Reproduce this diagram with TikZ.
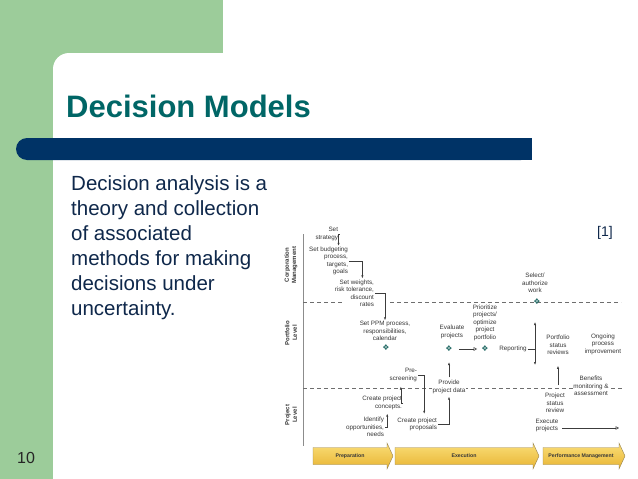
\documentclass[tikz,border=0pt]{standalone}
\usepackage{fontspec}
\setmainfont{Liberation Sans}
\newfontfamily\symfont{DejaVu Sans}
\usepackage{tikz}
\usetikzlibrary{arrows.meta, positioning}

\definecolor{slidegreen}{RGB}{156,204,154}
\definecolor{barblue}{RGB}{0,51,102}
\definecolor{titleteal}{RGB}{0,102,102}
\definecolor{bodynavy}{RGB}{15,40,75}
\definecolor{linegray}{RGB}{60,60,60}
\definecolor{txtgray}{RGB}{55,55,55}
\definecolor{dashgray}{RGB}{110,110,110}
\definecolor{axisgray}{RGB}{140,140,140}
\definecolor{markteal}{RGB}{40,110,105}
\definecolor{phasetop}{RGB}{250,222,120}
\definecolor{phasebot}{RGB}{232,180,50}
\definecolor{phaseedge}{RGB}{150,130,80}

\begin{document}
\begin{tikzpicture}[x=1pt, y=-1pt,
			lbl/.style={font=\fontsize{6.3}{7.5}\selectfont, text=txtgray, inner sep=0.8pt, align=center},
			rlbl/.style={lbl, align=right, anchor=east},
			masklbl/.style={lbl, fill=white},
			lvl/.style={font=\bfseries\fontsize{6}{7.4}\selectfont, text=txtgray, rotate=90, align=center, inner sep=0pt},
			pmark/.style={font=\symfont\fontsize{8}{8}\selectfont, text=markteal, inner sep=0pt},
			line/.style={draw=linegray, line width=0.5pt},
			arrow/.style={line, -{Latex[length=3pt,width=2.2pt]}},
			twoarrow/.style={line, {Latex[length=3pt,width=2.2pt]}-{Latex[length=3pt,width=2.2pt]}},
			openarrow/.style={line, -{Triangle[open,length=3.5pt,width=3.5pt]}},
			dashline/.style={draw=dashgray, line width=0.6pt, dash pattern=on 4pt off 3pt},
			phase/.style={top color=phasetop, bottom color=phasebot, draw=phaseedge, line width=0.4pt},
			phaselbl/.style={font=\bfseries\fontsize{5.2}{6}\selectfont, text=txtgray, inner sep=0pt}
			]
			\useasboundingbox (0,0) rectangle (638,479);
			
			% Slide background
			\fill[white] (0,0) rectangle (638,479);
			\fill[slidegreen] (0,0) rectangle (223,75);
			\fill[slidegreen] (0,0) rectangle (53,479);
			\fill[white, rounded corners=16pt] (53,53) rectangle (700,560);
			\fill[barblue, rounded corners=11pt] (16,138) rectangle (532,160);
			\fill[barblue] (510,138) rectangle (532,160);
			
			% Texts
			\node (title) [anchor=base west, font=\bfseries\fontsize{31}{36}\selectfont, text=titleteal, inner sep=0pt] at (66,117) {Decision Models};
			\node (body) [anchor=north west, align=left, font=\fontsize{20.5}{25}\selectfont, text=bodynavy, inner sep=0pt] at (71,175) {Decision analysis is a\\theory and collection\\of associated\\methods for making\\decisions under\\uncertainty.};
			\node (ref) [font=\fontsize{14}{16}\selectfont, text=bodynavy] at (605,233) {[1]};
			\node (pagenum) [anchor=base west, font=\fontsize{16}{18}\selectfont, text=black!85, inner sep=0pt] at (17,463) {10};
			
			% Axis and level separators
			\coordinate (axtop) at (303,234);
			\coordinate (axbot) at (303,446);
			\coordinate (upA) at (303,302);
			\coordinate (upB) at (342,302);
			\coordinate (upC) at (390,302);
			\coordinate (upD) at (621,302);
			\coordinate (loA) at (303,388);
			\coordinate (loB) at (622,388);
			\draw[draw=axisgray, line width=0.7pt] (axtop) -- (axbot);
			\draw[dashline] (upA) -- (upB);
			\draw[dashline] (upC) -- (upD);
			\draw[dashline] (loA) -- (loB);
			
			% Levels
			\node (corp) [lvl] at (291,265) {Corporation\\Management};
			\node (portf) [lvl] at (291,333) {Portfolio\\Level};
			\node (projl) [lvl] at (291,415) {Project\\Level};
			
			% Nodes
			\node (strat) [rlbl] at (339,234) {Set\\strategy};
			\node (budget) [rlbl] at (349,261) {Set budgeting\\process,\\targets,\\goals};
			\node (weights) [rlbl] at (375,293) {Set weights,\\risk tolerance,\\discount\\rates};
			\node (ppm) [lbl] at (385,331) {Set PPM process,\\responsibilities,\\calendar};
			\node (ppmMark) [pmark] at (386,348) {❖};
			\node (eval) [lbl] at (452,332) {Evaluate\\projects};
			\node (evalMark) [pmark] at (449,349) {❖};
			\node (prior) [lbl] at (485,322.5) {Prioritize\\projects/\\optimize\\project\\portfolio};
			\node (priorMark) [pmark] at (485,349) {❖};
			\node (report) [lbl] at (513,349) {Reporting};
			\node (select) [lbl] at (535,283) {Select/\\authorize\\work};
			\node (selMark) [pmark] at (537,302) {❖};
			\node (pstat) [lbl] at (558,345) {Portfolio\\status\\reviews};
			\node (ongoing) [lbl] at (603,344) {Ongoing\\process\\improvement};
			\node (benefit) [masklbl] at (591,386) {Benefits\\monitoring \&\\assessment};
			\node (prjstat) [lbl] at (555,403) {Project\\status\\review};
			\node (execute) [lbl] at (547,425.5) {Execute\\projects};
			\node (prescr) [rlbl] at (418,375) {Pre-\\screening};
			\node (concept) [rlbl] at (403,403) {Create project\\concepts.};
			\node (identify) [rlbl] at (385,427) {Identify\\opportunities,\\needs};
			\node (proposal) [rlbl] at (438,424.5) {Create project\\proposals};
			\node (provide) [masklbl] at (449,387) {Provide\\project data};
			\coordinate (repTop) at (535,322);
			\coordinate (repBot) at (535,365);
			\coordinate (execEnd) at (619,428);
			
			% Connections
			\draw [arrow] (strat.east) -| ([xshift=10pt]budget.north);
			\draw [arrow] (budget.east) -| ([xshift=8pt]weights.north);
			\draw [arrow] (weights.east) -| (ppm.north);
			\draw [openarrow, shorten <=6pt, shorten >=4pt] (evalMark) -- (priorMark);
			\draw [arrow, shorten <=2pt, shorten >=10pt] (provide) -- (evalMark);
			\draw [arrow, shorten >=2pt] (proposal.east) -| (provide.south);
			\draw [arrow, shorten >=3pt] (prescr.east) -| ([xshift=7pt]proposal.north);
			\draw [arrow, shorten >=4pt] (concept.east) -| ([xshift=-2.5pt]prescr.south);
			\draw [arrow, shorten >=3pt] (identify.east) -| ([xshift=5pt]concept.south);
			\draw [twoarrow] (repBot) -- (repTop);
			\draw [line] (report.east) -- (report.east -| repTop);
			\draw [arrow, shorten <=7pt, shorten >=10pt] (pstat.south |- prjstat.north) -- (pstat.south);
			\draw [openarrow, shorten <=3pt] (execute.east |- execEnd) -- (execEnd);
			
			% Phases
			\foreach \xa/\xb/\pname/\ptxt in {313/393/prep/Preparation, 395/539/exec/Execution, 543/625/perf/Performance Management} {
				\shade[phase] (\xa,447.5) -- (\xb-6,447.5) -- (\xb-6,443) -- (\xb,456) -- (\xb-6,469) -- (\xb-6,464.5) -- (\xa,464.5) -- cycle;
				\node (\pname) [phaselbl] at ({(\xa+\xb-6)/2},456) {\ptxt};
			}
			
		\end{tikzpicture}
\end{document}
